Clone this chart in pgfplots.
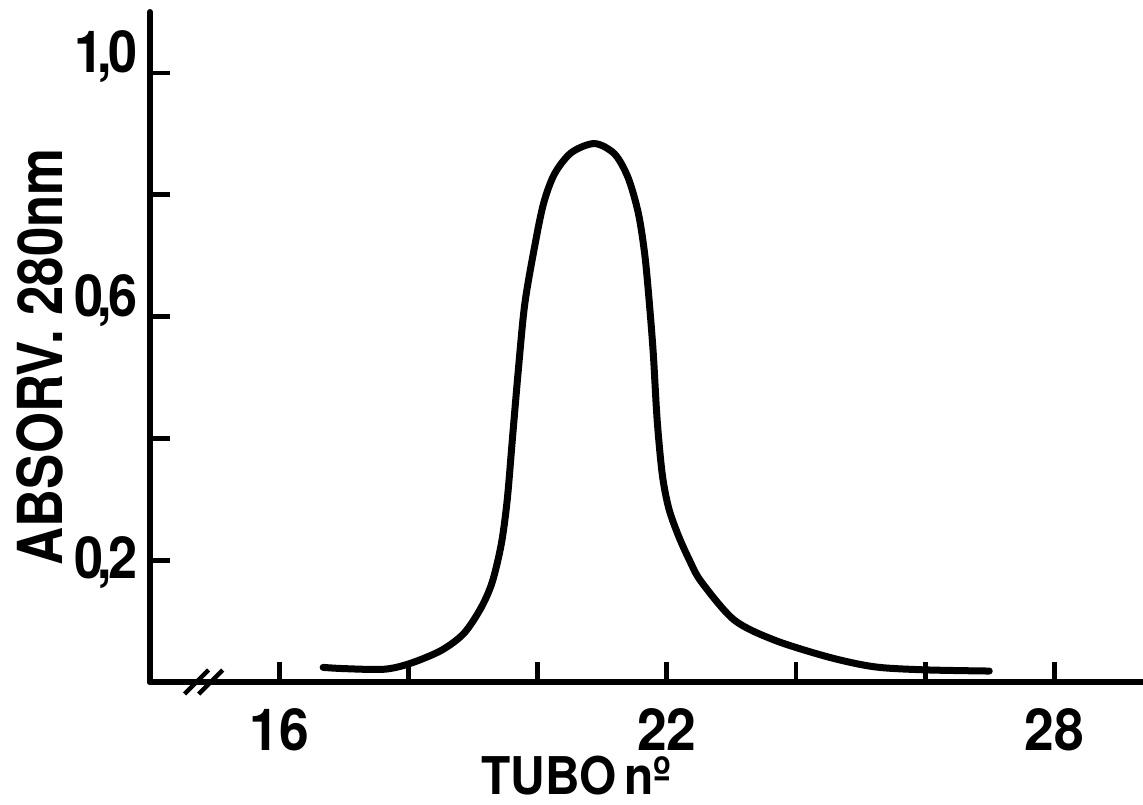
\documentclass[border=0pt]{standalone}
\usepackage{fontspec}
\setmainfont{TeX Gyre Heros}
\usepackage{pgfplots}
\pgfplotsset{compat=1.18}
\newcommand\tl[1]{\scalebox{0.92}[1]{#1}}
\newcommand\dc[2]{\scalebox{0.9}[1]{#1\kern-3pt,\kern-2pt#2}}
\begin{document}
\begin{tikzpicture}
\path[use as bounding box] (-75pt,-61pt) rectangle (496.5pt,341pt);
\begin{axis}[
  at={(0,0)}, anchor=south west,
  scale only axis, width=496.5pt, height=335pt,
  xmin=14, xmax=29.37, ymin=0, ymax=1.1,
  axis lines=left,
  axis line style={-, line width=3pt, line cap=round},
  xtick={16,18,20,22,24,26,28}, xticklabels={\tl{16},{},{},\tl{22},{},{},\tl{28}},
  ytick={0.2,0.4,0.6,0.8,1.0},
  yticklabels={{\raisebox{-9pt}{\dc{0}{2}}},{},{\dc{0}{6}},{},{\dc{1}{0}}},
  tick align=inside, major tick length=10pt,
  tick style={black, line width=2.4pt},
  clip=false,
  xticklabel style={font=\fontsize{29}{32}\selectfont\bfseries, anchor=north, inner sep=0pt, yshift=-13pt},
  yticklabel style={font=\fontsize{29}{32}\selectfont\bfseries, anchor=base east, inner sep=0pt, xshift=-6pt},
]
\addplot[black, line width=3.5pt, smooth, tension=0.5, line cap=round, line join=round] coordinates {
(16.68,0.024) (17.0,0.022) (17.63,0.021) (18.04,0.031) (18.51,0.052)
(18.86,0.080) (19.13,0.123) (19.30,0.165) (19.44,0.228) (19.53,0.300)
(19.61,0.400) (19.70,0.511) (19.80,0.620) (19.95,0.713) (20.09,0.785)
(20.26,0.834) (20.52,0.869) (20.88,0.884) (21.19,0.867) (21.40,0.828)
(21.56,0.769) (21.66,0.700) (21.73,0.621) (21.79,0.539) (21.85,0.430)
(21.93,0.340) (22.03,0.285) (22.18,0.240) (22.35,0.200) (22.53,0.165)
(23.04,0.102) (23.66,0.069) (24.50,0.041) (25.21,0.025) (25.98,0.020)
(26.99,0.018)
};
\draw[line width=2.2pt] ([xshift=-6pt,yshift=-6pt]axis cs:14.72,0) -- ([xshift=6pt,yshift=6pt]axis cs:14.72,0);
\draw[line width=2.2pt] ([xshift=-6pt,yshift=-6pt]axis cs:14.94,0) -- ([xshift=6pt,yshift=6pt]axis cs:14.94,0);
\node[rotate=90, anchor=center, inner sep=0pt, font=\fontsize{31}{34}\selectfont\bfseries]
  at ([xshift=-55pt]axis cs:14,0.534) {\scalebox{0.85}[1]{ABSORV. 280nm}};
\node[anchor=north, inner sep=0pt, font=\fontsize{26}{28}\selectfont\bfseries]
  at ([yshift=-37pt]axis cs:20.6,0) {\scalebox{0.92}[1]{TUBO\,nº}};
\end{axis}
\end{tikzpicture}
\end{document}
